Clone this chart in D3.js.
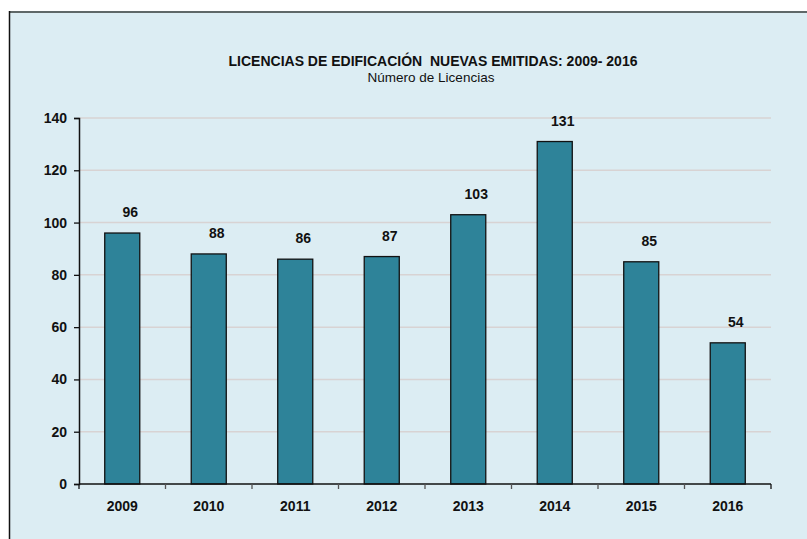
<!DOCTYPE html>
<html>
<head>
<meta charset="utf-8">
<script src="https://cdn.jsdelivr.net/npm/d3@7"></script>
<style>
  html, body { margin: 0; padding: 0; background: #fff; }
  svg { display: block; font-family: "Liberation Sans", Arial, sans-serif; }
</style>
</head>
<body>
<div id="chart"></div>
<script>
// data
const years = ["2009", "2010", "2011", "2012", "2013", "2014", "2015", "2016"];
const licencias = [96, 88, 86, 87, 103, 131, 85, 54];
const yTicks = [0, 20, 40, 60, 80, 100, 120, 140];
const titleText = "LICENCIAS DE EDIFICACIÓN  NUEVAS EMITIDAS: 2009- 2016";
const subtitleText = "Número de Licencias";

const W = 807, H = 539;
const margin = {top: 118, right: 36, bottom: 55, left: 79};

const svg = d3.select("#chart")
  .append("svg")
  .attr("width", W)
  .attr("height", H);

// chart area background + frame
svg.append("rect")
  .attr("x", 9).attr("y", 11)
  .attr("width", W - 9).attr("height", H - 11)
  .attr("fill", "#dcedf3");
svg.append("line")
  .attr("x1", 9).attr("x2", W).attr("y1", 12).attr("y2", 12)
  .attr("stroke", "#5f6868").attr("stroke-width", 2);
svg.append("line")
  .attr("x1", 9.5).attr("x2", 9.5).attr("y1", 11).attr("y2", H)
  .attr("stroke", "#111").attr("stroke-width", 1.5);

// titles
svg.append("text")
  .attr("x", 433).attr("y", 66)
  .attr("text-anchor", "middle")
  .style("font-size", "14px").style("font-weight", "bold")
  .attr("fill", "#111")
  .style("white-space", "pre")
  .text(titleText);
svg.append("text")
  .attr("x", 431).attr("y", 82)
  .attr("text-anchor", "middle")
  .style("font-size", "13.5px")
  .attr("fill", "#111")
  .text(subtitleText);

// scales
let x = d3.scaleBand()
  .domain(years)
  .range([margin.left, W - margin.right])
  .paddingInner(0.595)
  .paddingOuter(0.2975);

let y = d3.scaleLinear()
  .domain([0, 140])
  .range([H - margin.bottom, margin.top]);

const x0 = margin.left, x1 = W - margin.right;

// gridlines
svg.append("g")
  .selectAll("line")
  .data(yTicks.filter(d => d > 0))
  .enter()
    .append("line")
    .attr("x1", x0).attr("x2", x1)
    .attr("y1", d => y(d)).attr("y2", d => y(d))
    .attr("stroke", "#d8d3d3")
    .attr("stroke-width", 1.5);

// bars
svg.append("g")
  .selectAll("rect")
  .data(licencias)
  .enter()
    .append("rect")
    .attr("x", (d, i) => x(years[i]))
    .attr("y", d => y(d))
    .attr("width", x.bandwidth())
    .attr("height", d => y(0) - y(d))
    .attr("fill", "#2e8399")
    .attr("stroke", "#111")
    .attr("stroke-width", 1.3);

// value labels
svg.append("g")
  .selectAll("text")
  .data(licencias)
  .enter()
    .append("text")
    .attr("x", (d, i) => x(years[i]) + x.bandwidth() / 2 + 8)
    .attr("y", d => y(d) - 16)
    .attr("text-anchor", "middle")
    .style("font-size", "14px").style("font-weight", "bold")
    .attr("fill", "#111")
    .text(d => d);

// y axis
let yAxis = d3.axisLeft(y).tickValues(yTicks).tickSize(5).tickPadding(7);
let gy = svg.append("g")
  .attr("transform", "translate(" + x0 + ",0)")
  .call(yAxis);
gy.select(".domain").attr("stroke", "#111").attr("stroke-width", 1.5);
gy.selectAll(".tick line").attr("stroke", "#111").attr("stroke-width", 1.3);
gy.selectAll(".tick text")
  .style("font-size", "14px").style("font-weight", "bold")
  .style("font-family", "'Liberation Sans', Arial, sans-serif")
  .attr("fill", "#111");

// x axis: labels centred on bars, ticks on category boundaries
let xAxis = d3.axisBottom(x).tickSize(0).tickPadding(17);
let gx = svg.append("g")
  .attr("transform", "translate(0," + y(0) + ")")
  .call(xAxis);
gx.select(".domain").remove();
gx.selectAll(".tick text")
  .style("font-size", "14px").style("font-weight", "bold")
  .style("font-family", "'Liberation Sans', Arial, sans-serif")
  .attr("fill", "#111");

svg.append("line")
  .attr("x1", x0).attr("x2", x1)
  .attr("y1", y(0)).attr("y2", y(0))
  .attr("stroke", "#111").attr("stroke-width", 1.5);

svg.append("g")
  .selectAll("line")
  .data(d3.range(years.length + 1))
  .enter()
    .append("line")
    .attr("x1", i => x0 + i * x.step())
    .attr("x2", i => x0 + i * x.step())
    .attr("y1", y(0)).attr("y2", y(0) + 5)
    .attr("stroke", (i) => (i === 0 || i === years.length) ? "#111" : "#555")
    .attr("stroke-width", 1.3);
</script>
</body>
</html>
